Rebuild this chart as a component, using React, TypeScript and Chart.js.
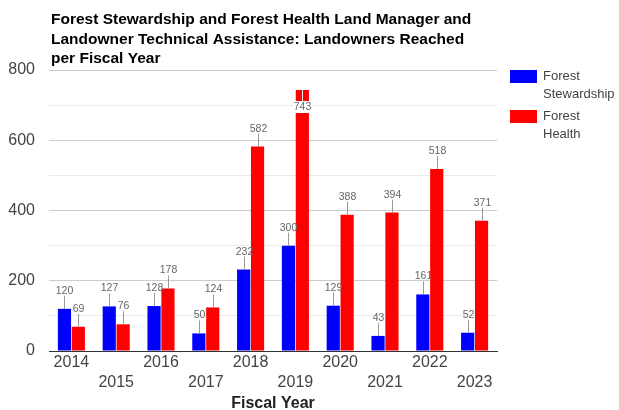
import React, { useEffect, useRef } from 'react';
import { Chart, registerables } from 'chart.js';

Chart.register(...registerables);

const FONT = '"Liberation Sans", Arial, Helvetica, sans-serif';

const years: string[] = ['2014', '2015', '2016', '2017', '2018', '2019', '2020', '2021', '2022', '2023'];
const stewardship: number[] = [120, 127, 128, 50, 232, 300, 129, 43, 161, 52];
const health: number[] = [69, 76, 178, 124, 582, 743, 388, 394, 518, 371];
const seriesNames: string[][] = [['Forest', 'Stewardship'], ['Forest', 'Health']];
const seriesColors: string[] = ['#0000ff', '#ff0000'];
const titleLines: string[] = [
  'Forest Stewardship and Forest Health Land Manager and',
  'Landowner Technical Assistance: Landowners Reached',
  'per Fiscal Year',
];
const xAxisTitle = 'Fiscal Year';
const yMin = 0;
const yMax = 800;
const yStep = 100;
const yLabelStep = 200;

const overlayPlugin = {
  id: 'overlay',
  afterDatasetsDraw(chart: any) {
    const ctx = chart.ctx as CanvasRenderingContext2D;
    const area = chart.chartArea;
    ctx.save();
    ctx.font = `10.5px ${FONT}`;
    ctx.textAlign = 'center';
    chart.data.datasets.forEach((ds: any, di: number) => {
      const meta = chart.getDatasetMeta(di);
      meta.data.forEach((bar: any, i: number) => {
        const txt = String(ds.data[i]);
        const x = Math.round(bar.x) + 0.5;
        const y = bar.y;
        if (y - 24 < area.top) {
          ctx.strokeStyle = '#eeeeee';
          ctx.lineWidth = 1;
          ctx.beginPath();
          ctx.moveTo(x, y);
          ctx.lineTo(x, y + 11);
          ctx.stroke();
          const w = ctx.measureText(txt).width + 2;
          ctx.fillStyle = '#ffffff';
          ctx.fillRect(x - w / 2, y + 11, w, 12);
          ctx.fillStyle = '#666666';
          ctx.textBaseline = 'middle';
          ctx.fillText(txt, x, y + 17.5);
        } else {
          ctx.strokeStyle = '#999999';
          ctx.lineWidth = 1;
          ctx.beginPath();
          ctx.moveTo(x, y);
          ctx.lineTo(x, y - 13);
          ctx.stroke();
          ctx.fillStyle = '#666666';
          ctx.textBaseline = 'alphabetic';
          ctx.fillText(txt, x, y - 15);
        }
      });
    });
    ctx.restore();
  },
  afterDraw(chart: any) {
    const ctx = chart.ctx as CanvasRenderingContext2D;
    const area = chart.chartArea;
    ctx.save();
    // Title
    ctx.font = `bold 15.5px ${FONT}`;
    ctx.fillStyle = '#000000';
    ctx.textAlign = 'left';
    ctx.textBaseline = 'alphabetic';
    titleLines.forEach((line, i) => {
      ctx.fillText(line, 51, 24 + i * 19.7);
    });
    // Axis title
    ctx.font = `bold 16px ${FONT}`;
    ctx.fillStyle = '#222222';
    ctx.textAlign = 'center';
    ctx.fillText(xAxisTitle, (area.left + area.right) / 2, 408);
    // Legend
    ctx.font = `13px ${FONT}`;
    ctx.textAlign = 'left';
    ctx.textBaseline = 'middle';
    seriesNames.forEach((lines, i) => {
      const top = area.top + i * 40;
      ctx.fillStyle = seriesColors[i];
      ctx.fillRect(area.right + 13, top, 27, 13);
      ctx.fillStyle = '#444444';
      lines.forEach((l, j) => {
        ctx.fillText(l, area.right + 46, top + 6 + j * 18);
      });
    });
    ctx.restore();
  },
};

export default function App() {
  const canvasRef = useRef<HTMLCanvasElement | null>(null);

  useEffect(() => {
    if (!canvasRef.current) return;
    const labels = years.map((y, i) => (i % 2 === 1 ? ['', y] : y));
    const chart = new Chart(canvasRef.current, {
      type: 'bar',
      data: {
        labels,
        datasets: [
          {
            label: seriesNames[0].join(' '),
            data: stewardship,
            backgroundColor: seriesColors[0],
            categoryPercentage: 0.62,
            barPercentage: 0.95,
          },
          {
            label: seriesNames[1].join(' '),
            data: health,
            backgroundColor: seriesColors[1],
            categoryPercentage: 0.62,
            barPercentage: 0.95,
          },
        ],
      },
      options: {
        responsive: false,
        animation: false,
        devicePixelRatio: 1,
        layout: { padding: { top: 70, right: 122, bottom: 0, left: 0 } },
        plugins: {
          legend: { display: false },
          title: { display: false },
          tooltip: { enabled: false },
        },
        scales: {
          x: {
            grid: { display: false, drawTicks: false },
            border: { display: true, color: '#333333', width: 1 },
            ticks: {
              font: { size: 16, family: FONT, lineHeight: 1.25 },
              color: '#444444',
              padding: 2,
              maxRotation: 0,
              autoSkip: false,
            },
            afterFit(scale: any) {
              scale.height = 59;
            },
          },
          y: {
            min: yMin,
            max: yMax,
            grid: {
              drawTicks: false,
              color: (c: any) =>
                c.tick && c.tick.value === 0
                  ? 'rgba(0,0,0,0)'
                  : c.tick && c.tick.value % yLabelStep === 0
                  ? '#cccccc'
                  : '#ebebeb',
            },
            border: { display: false },
            ticks: {
              stepSize: yStep,
              font: { size: 16, family: FONT },
              color: '#444444',
              padding: 14,
              callback: (v: any) => (Number(v) % yLabelStep === 0 ? String(v) : ''),
            },
            afterFit(scale: any) {
              scale.width = 49;
            },
          },
        },
      },
      plugins: [overlayPlugin],
    });
    return () => chart.destroy();
  }, []);

  return (
    <div style={{ position: 'fixed', left: 0, top: 0, width: 619, height: 410, background: '#ffffff' }}>
      <canvas ref={canvasRef} width={619} height={410} style={{ width: 619, height: 410, display: 'block' }} />
    </div>
  );
}
